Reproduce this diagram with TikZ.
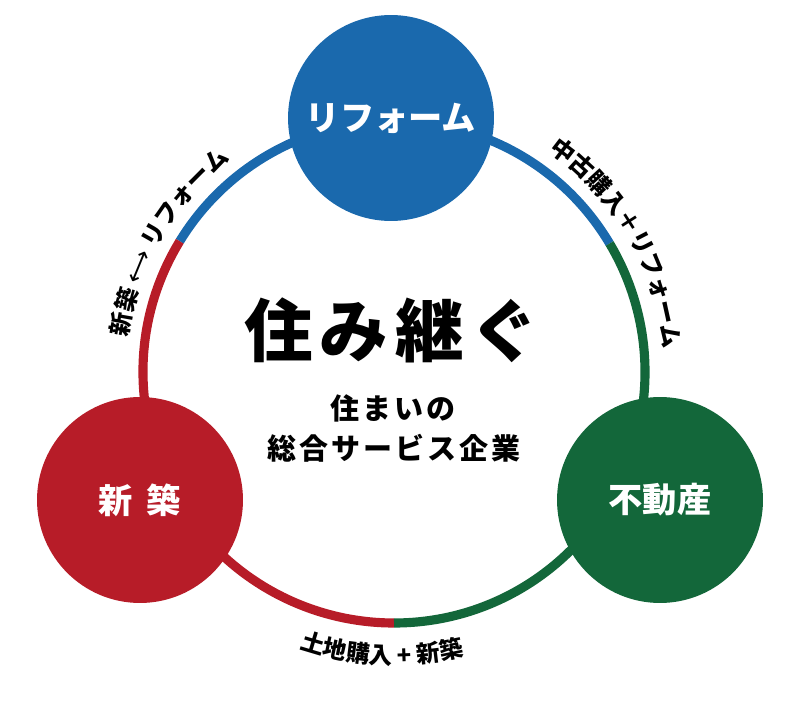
\documentclass[tikz,border=0pt]{standalone}
\usepackage{fontspec}
\newfontfamily\jp{Noto Sans CJK JP}
\newfontfamily\jpsp{Noto Sans CJK JP}[LetterSpace=10]
\newfontfamily\arrowfont{DejaVu Sans}
\usetikzlibrary{decorations.text}

\definecolor{rfblue}{HTML}{1A69AD}
\definecolor{sbred}{HTML}{B71C28}
\definecolor{fdgreen}{HTML}{13673A}

\begin{document}
\begin{tikzpicture}[x=0.02cm,y=0.02cm,
  ring/.style={line width=5.2pt},
  hub/.style={circle,inner sep=0pt,minimum size=4.12cm,text=white,
    font=\jp\bfseries\fontsize{19.5}{21}\selectfont},
  arclabel/.style={decorate,decoration={text along path,text align=center,
    text={|\jp\bfseries\fontsize{13.5}{14}\selectfont|#1}}}]
\useasboundingbox (0,0) rectangle (800,700);
\coordinate (c) at (394,328);
% ring
\draw[ring,rfblue] (c) ++(30.8:251) arc[start angle=30.8,end angle=148.6,radius=251];
\draw[ring,sbred] (c) ++(148.6:251) arc[start angle=148.6,end angle=270,radius=251];
\draw[ring,fdgreen] (c) ++(-90:251) arc[start angle=-90,end angle=30.8,radius=251];
% hubs
\node[hub,fill=rfblue] (reform) at (391,582) {リフォーム};
\node[hub,fill=sbred] (shinchiku) at (140,200) {新\hspace{0.4em}築};
\node[hub,fill=fdgreen] (fudosan) at (660,200) {不動産};
% center text
\node[font=\jpsp\bfseries\fontsize{39}{40}\selectfont] (title) at (392,370) {住み継ぐ};
\node[font=\jpsp\bfseries\fontsize{16.5}{18}\selectfont] (sub1) at (393,292) {住まいの};
\node[font=\jpsp\bfseries\fontsize{16.5}{18}\selectfont] (sub2) at (394,252) {総合サービス企業};
% labels along the ring
\path[arclabel={新築 |\arrowfont\fontsize{13.5}{14}\selectfont|⟷|\jp\bfseries\fontsize{13.5}{14}\selectfont| リフォーム}]
  (c) ++(195:268) arc[start angle=195,end angle=105,radius=268];
\path[arclabel={中古購入＋リフォーム}] (c) ++(75:270) arc[start angle=75,end angle=-15,radius=270];
\path[arclabel={土地購入 + 新築}] (c) ++(-137.5:292) arc[start angle=-137.5,end angle=-47.5,radius=292];
\end{tikzpicture}
\end{document}
